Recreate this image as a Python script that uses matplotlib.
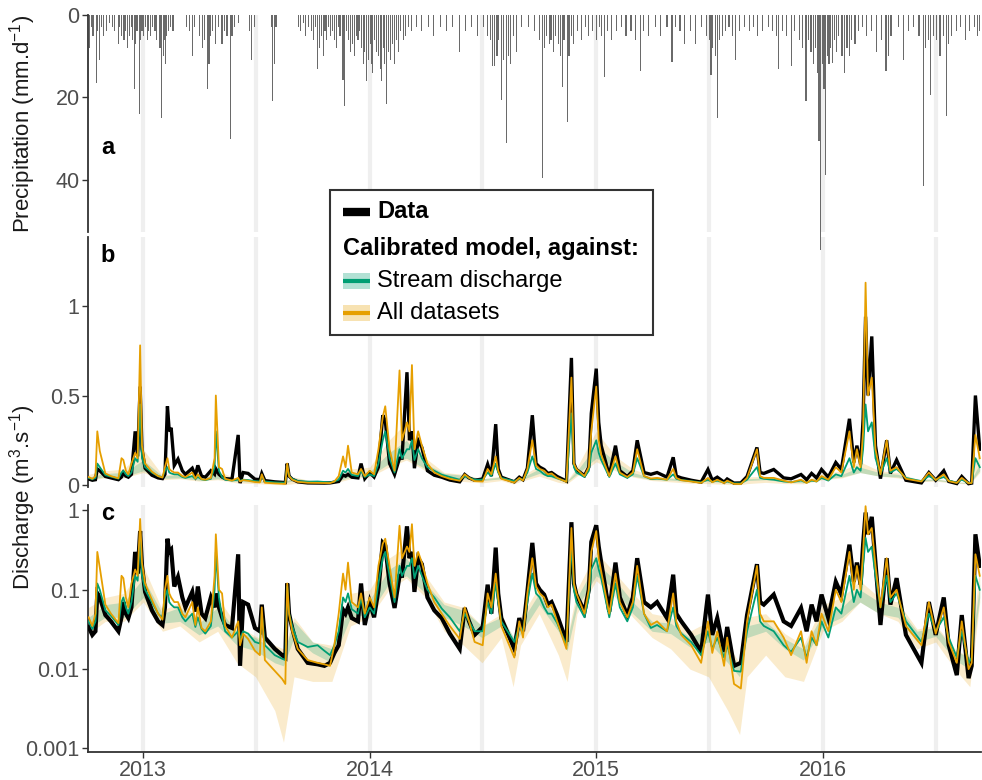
import numpy as np
import pandas as pd
import matplotlib
matplotlib.use('Agg')
import matplotlib.pyplot as plt
from matplotlib.patches import Rectangle
from matplotlib.lines import Line2D

plt.rcParams['font.family'] = ['Liberation Sans', 'DejaVu Sans']
plt.rcParams['mathtext.default'] = 'regular'

# daily precipitation (mm/d), rainy days only
rain_dates = [
    '2012-10-06', '2012-10-09', '2012-10-12', '2012-10-17', '2012-10-19', '2012-10-22', '2012-10-26', '2012-10-29', '2012-11-03', '2012-11-07',
    '2012-11-12', '2012-11-16', '2012-11-22', '2012-11-24', '2012-11-27', '2012-12-01', '2012-12-04', '2012-12-07', '2012-12-10', '2012-12-13',
    '2012-12-15', '2012-12-18', '2012-12-20', '2012-12-22', '2012-12-26', '2012-12-28', '2012-12-30', '2013-01-02', '2013-01-05', '2013-01-08',
    '2013-01-10', '2013-01-13', '2013-01-16', '2013-01-20', '2013-01-23', '2013-01-28', '2013-01-31', '2013-02-02', '2013-02-04', '2013-02-06',
    '2013-02-08', '2013-02-11', '2013-02-14', '2013-02-18', '2013-03-12', '2013-03-16', '2013-03-21', '2013-03-25', '2013-04-02', '2013-04-06',
    '2013-04-10', '2013-04-15', '2013-04-17', '2013-04-20', '2013-04-23', '2013-04-27', '2013-05-02', '2013-05-08', '2013-05-12', '2013-05-16',
    '2013-05-21', '2013-05-24', '2013-05-28', '2013-06-03', '2013-06-21', '2013-06-25', '2013-06-29', '2013-07-27', '2013-07-29', '2013-07-31',
    '2013-08-03', '2013-09-08', '2013-09-12', '2013-09-16', '2013-09-20', '2013-09-25', '2013-09-29', '2013-10-03', '2013-10-06', '2013-10-09',
    '2013-10-12', '2013-10-15', '2013-10-18', '2013-10-21', '2013-10-24', '2013-10-27', '2013-10-30', '2013-11-02', '2013-11-05', '2013-11-08',
    '2013-11-11', '2013-11-14', '2013-11-19', '2013-11-22', '2013-11-25', '2013-11-28', '2013-12-01', '2013-12-04', '2013-12-07', '2013-12-10',
    '2013-12-13', '2013-12-16', '2013-12-19', '2013-12-22', '2013-12-24', '2013-12-27', '2013-12-30', '2014-01-02', '2014-01-04', '2014-01-06',
    '2014-01-09', '2014-01-12', '2014-01-15', '2014-01-18', '2014-01-20', '2014-01-23', '2014-01-25', '2014-01-28', '2014-01-31', '2014-02-03',
    '2014-02-06', '2014-02-10', '2014-02-13', '2014-02-16', '2014-02-20', '2014-02-24', '2014-02-28', '2014-03-04', '2014-03-10', '2014-03-18',
    '2014-03-26', '2014-04-05', '2014-04-14', '2014-04-25', '2014-05-05', '2014-05-15', '2014-05-26', '2014-06-04', '2014-06-14', '2014-06-24',
    '2014-07-04', '2014-07-10', '2014-07-14', '2014-07-18', '2014-07-21', '2014-07-25', '2014-07-28', '2014-08-01', '2014-08-04', '2014-08-09',
    '2014-08-12', '2014-08-16', '2014-08-20', '2014-08-26', '2014-09-02', '2014-09-14', '2014-09-24', '2014-10-02', '2014-10-06', '2014-10-09',
    '2014-10-13', '2014-10-17', '2014-10-20', '2014-10-24', '2014-10-28', '2014-11-01', '2014-11-04', '2014-11-07', '2014-11-10', '2014-11-15',
    '2014-11-18', '2014-11-22', '2014-11-26', '2014-12-02', '2014-12-08', '2014-12-14', '2014-12-20', '2014-12-26', '2015-01-02', '2015-01-06',
    '2015-01-10', '2015-01-15', '2015-01-19', '2015-01-25', '2015-02-02', '2015-02-10', '2015-02-18', '2015-02-26', '2015-03-05', '2015-03-13',
    '2015-03-18', '2015-03-26', '2015-04-06', '2015-04-15', '2015-04-25', '2015-05-03', '2015-05-08', '2015-05-16', '2015-05-23', '2015-06-02',
    '2015-06-10', '2015-06-20', '2015-06-28', '2015-07-02', '2015-07-05', '2015-07-08', '2015-07-12', '2015-07-16', '2015-07-19', '2015-07-23',
    '2015-07-28', '2015-08-03', '2015-08-08', '2015-08-14', '2015-08-20', '2015-08-28', '2015-09-05', '2015-09-12', '2015-09-18', '2015-09-26',
    '2015-10-05', '2015-10-12', '2015-10-18', '2015-10-22', '2015-10-28', '2015-11-04', '2015-11-11', '2015-11-17', '2015-11-24', '2015-11-30',
    '2015-12-05', '2015-12-09', '2015-12-13', '2015-12-17', '2015-12-20', '2015-12-23', '2015-12-26', '2015-12-29', '2016-01-01', '2016-01-03',
    '2016-01-06', '2016-01-08', '2016-01-11', '2016-01-14', '2016-01-17', '2016-01-20', '2016-01-23', '2016-01-27', '2016-02-01', '2016-02-05',
    '2016-02-09', '2016-02-13', '2016-02-17', '2016-02-22', '2016-02-27', '2016-03-05', '2016-03-12', '2016-03-20', '2016-03-28', '2016-04-05',
    '2016-04-12', '2016-04-16', '2016-04-20', '2016-05-02', '2016-05-10', '2016-05-18', '2016-05-26', '2016-06-04', '2016-06-11', '2016-06-15',
    '2016-06-19', '2016-06-23', '2016-06-27', '2016-07-02', '2016-07-08', '2016-07-13', '2016-07-18', '2016-07-22', '2016-07-27', '2016-08-04',
    '2016-08-10', '2016-08-18', '2016-08-24', '2016-09-01', '2016-09-06', '2016-09-09',
]
rain_mm = [
    8, 3, 5, 16.5, 4, 11, 3, 5, 4, 2,
    3, 4, 7, 3, 5, 6, 4, 8, 5, 3,
    6, 18, 7, 4, 24, 6, 4, 5, 3, 6,
    4, 5, 3, 4, 6, 8, 25, 10, 6, 12,
    5, 4, 3, 4, 3, 4, 10, 3, 5, 8,
    6, 18, 12, 5, 4, 7, 3, 7, 4, 5,
    30, 5, 3, 2, 4, 11, 3, 3, 21, 12,
    3, 3, 4, 2, 5, 3, 4, 6, 3, 13,
    8, 5, 10, 4, 6, 3, 5, 4, 6, 8,
    3, 5, 15.7, 22, 4, 6, 9, 7, 10, 5,
    6, 4, 8, 12, 9, 16, 11, 7, 12, 14,
    6, 9, 10, 13, 16, 8, 12, 21.5, 9, 11,
    7, 12, 6, 9, 4, 6, 5, 3, 4, 3,
    4, 3, 5, 3, 4, 3, 9, 4, 3, 5,
    3, 5, 6, 12.5, 12.5, 10, 6, 20.6, 11, 31,
    10, 12, 5, 9, 3, 3, 4, 6, 39.6, 8,
    5, 7, 6, 9, 5, 7, 10, 17.4, 6, 26,
    10, 5, 7, 4, 6, 3, 5, 4, 6, 3,
    5, 15, 4, 6, 4, 3, 5, 4, 6, 13.7,
    4, 5, 3, 5, 3, 11.3, 3, 4, 7, 4,
    7, 3, 5, 6, 14.5, 8, 10, 25, 6, 5,
    4, 3, 5, 11, 4, 3, 4, 3, 5, 4,
    3, 4, 5, 13, 4, 5, 12.5, 4, 6, 8,
    21, 6, 9, 12, 8, 14, 30.7, 57, 12, 18,
    38.8, 10, 12, 8, 11.7, 6, 9, 5, 10, 14,
    8, 10, 6, 7, 4, 3, 5, 4, 9, 6,
    13.7, 10, 5, 3, 11, 4, 3, 5, 41.6, 8,
    6, 19.4, 5, 6, 10, 5, 24.6, 7, 5, 4,
    3, 6, 4, 3, 5, 4,
]

# discharge (m3/s): observed, model calibrated on stream discharge, model calibrated on all data
q_dates = [
    '2012-10-05', '2012-10-11', '2012-10-16', '2012-10-19', '2012-10-23', '2012-11-01', '2012-11-10', '2012-11-22', '2012-11-27', '2012-11-30',
    '2012-12-04', '2012-12-08', '2012-12-13', '2012-12-19', '2012-12-23', '2012-12-27', '2012-12-30', '2013-01-04',
    '2013-01-15', '2013-01-25', '2013-02-01', '2013-02-05', '2013-02-09', '2013-02-12', '2013-02-15', '2013-02-20', '2013-02-26', '2013-03-05',
    '2013-03-10', '2013-03-21', '2013-03-26', '2013-03-30', '2013-04-05', '2013-04-11', '2013-04-20', '2013-04-26', '2013-04-28', '2013-05-03',
    '2013-05-08', '2013-05-13', '2013-05-24',
    '2013-06-03', '2013-06-06', '2013-06-11', '2013-06-19', '2013-06-30', '2013-07-08', '2013-07-11', '2013-07-16', '2013-08-01', '2013-08-13',
    '2013-08-18', '2013-08-21', '2013-08-24', '2013-08-29', '2013-09-07', '2013-09-23', '2013-10-09', '2013-10-20', '2013-10-29',
    '2013-11-05', '2013-11-12', '2013-11-19', '2013-11-23', '2013-11-27', '2013-12-03', '2013-12-13', '2013-12-18', '2013-12-24', '2014-01-01',
    '2014-01-08', '2014-01-15', '2014-01-22', '2014-01-26', '2014-02-02', '2014-02-10', '2014-02-18', '2014-02-22', '2014-03-02', '2014-03-06',
    '2014-03-10', '2014-03-14', '2014-03-20', '2014-03-26', '2014-04-04',
    '2014-04-15', '2014-04-27', '2014-05-10', '2014-05-26', '2014-06-03', '2014-06-10', '2014-06-19', '2014-07-02', '2014-07-10', '2014-07-16',
    '2014-07-23', '2014-07-27', '2014-08-01', '2014-08-22', '2014-08-30', '2014-09-05', '2014-09-12', '2014-09-20', '2014-09-26', '2014-10-02',
    '2014-10-09', '2014-10-15', '2014-10-21', '2014-10-30',
    '2014-11-14', '2014-11-22', '2014-11-26', '2014-11-30', '2014-12-13', '2014-12-20', '2014-12-24', '2015-01-01', '2015-01-05', '2015-01-09',
    '2015-01-22', '2015-02-01', '2015-02-08', '2015-02-20', '2015-03-01', '2015-03-08', '2015-03-19', '2015-03-30', '2015-04-09', '2015-04-25',
    '2015-05-05', '2015-05-10', '2015-05-18',
    '2015-06-03', '2015-06-19', '2015-06-30', '2015-07-07', '2015-07-15', '2015-07-26', '2015-07-31', '2015-08-11', '2015-08-22', '2015-09-01',
    '2015-09-17', '2015-09-22', '2015-09-28', '2015-10-14', '2015-10-30', '2015-11-11', '2015-11-27', '2015-12-06', '2015-12-14', '2015-12-22',
    '2015-12-30',
    '2016-01-10', '2016-01-22', '2016-01-31', '2016-02-13', '2016-02-20', '2016-02-25', '2016-03-02', '2016-03-06', '2016-03-10', '2016-03-14',
    '2016-03-20', '2016-03-26', '2016-04-03', '2016-04-13', '2016-04-19', '2016-04-29', '2016-05-14', '2016-06-08', '2016-06-20', '2016-07-01',
    '2016-07-14', '2016-07-22', '2016-08-04', '2016-08-12', '2016-08-23', '2016-08-28', '2016-09-03', '2016-09-10',
]
q_obs = [
    0.034, 0.027, 0.030, 0.090, 0.080, 0.048, 0.040, 0.030, 0.045, 0.070,
    0.050, 0.044, 0.060, 0.300, 0.160, 0.550, 0.200, 0.094,
    0.055, 0.040, 0.036, 0.060, 0.440, 0.300, 0.320, 0.110, 0.145, 0.080,
    0.060, 0.094, 0.053, 0.110, 0.050, 0.044, 0.080, 0.060, 0.090, 0.060,
    0.045, 0.036, 0.033,
    0.280, 0.011, 0.070, 0.065, 0.033, 0.030, 0.065, 0.025, 0.018, 0.015,
    0.014, 0.120, 0.050, 0.033, 0.018, 0.012, 0.0115, 0.011, 0.012,
    0.016, 0.020, 0.056, 0.050, 0.060, 0.044, 0.040, 0.120, 0.036, 0.070,
    0.045, 0.100, 0.390, 0.360, 0.120, 0.059, 0.150, 0.150, 0.630, 0.250,
    0.300, 0.094, 0.250, 0.210, 0.080,
    0.055, 0.044, 0.028, 0.018, 0.059, 0.040, 0.027, 0.034, 0.116, 0.050,
    0.340, 0.090, 0.044, 0.018, 0.044, 0.030, 0.094, 0.390, 0.120, 0.100,
    0.087, 0.065, 0.070, 0.048,
    0.022, 0.710, 0.120, 0.087, 0.053, 0.100, 0.400, 0.650, 0.350, 0.220,
    0.053, 0.220, 0.080, 0.048, 0.080, 0.250, 0.070, 0.060, 0.070, 0.044,
    0.155, 0.050, 0.040,
    0.027, 0.0165, 0.087, 0.027, 0.044, 0.0165, 0.034, 0.011, 0.012, 0.048,
    0.210, 0.070, 0.065, 0.087, 0.040, 0.035, 0.059, 0.030, 0.065, 0.040,
    0.087,
    0.044, 0.126, 0.087, 0.370, 0.126, 0.220, 0.116, 0.370, 0.940, 0.500,
    0.830, 0.220, 0.036, 0.250, 0.065, 0.140, 0.027, 0.012, 0.070, 0.027,
    0.080, 0.020, 0.0084, 0.048, 0.0077, 0.011, 0.500, 0.200,
]
q_stream = [
    0.040, 0.032, 0.040, 0.120, 0.100, 0.055, 0.047, 0.036, 0.070, 0.080,
    0.060, 0.050, 0.070, 0.150, 0.130, 0.450, 0.150, 0.100,
    0.070, 0.050, 0.044, 0.080, 0.100, 0.070, 0.065, 0.060, 0.060, 0.045,
    0.040, 0.050, 0.034, 0.045, 0.032, 0.028, 0.035, 0.100, 0.300, 0.080,
    0.045, 0.030, 0.025,
    0.030, 0.024, 0.030, 0.028, 0.022, 0.021, 0.050, 0.020, 0.015, 0.0135,
    0.013, 0.110, 0.050, 0.035, 0.022, 0.019, 0.020, 0.017, 0.015,
    0.020, 0.030, 0.080, 0.070, 0.090, 0.057, 0.050, 0.080, 0.045, 0.060,
    0.050, 0.120, 0.250, 0.300, 0.150, 0.070, 0.200, 0.150, 0.200, 0.200,
    0.250, 0.140, 0.200, 0.150, 0.100,
    0.080, 0.058, 0.045, 0.030, 0.050, 0.040, 0.030, 0.030, 0.070, 0.050,
    0.120, 0.070, 0.040, 0.022, 0.035, 0.030, 0.070, 0.160, 0.090, 0.080,
    0.060, 0.050, 0.050, 0.038,
    0.020, 0.400, 0.100, 0.070, 0.045, 0.080, 0.180, 0.250, 0.180, 0.140,
    0.045, 0.120, 0.060, 0.040, 0.060, 0.150, 0.050, 0.033, 0.036, 0.030,
    0.060, 0.035, 0.028,
    0.022, 0.015, 0.030, 0.018, 0.025, 0.014, 0.020, 0.0095, 0.0093, 0.030,
    0.100, 0.040, 0.035, 0.030, 0.020, 0.0165, 0.025, 0.0137, 0.025, 0.020,
    0.040,
    0.025, 0.060, 0.050, 0.150, 0.070, 0.100, 0.080, 0.200, 0.450, 0.300,
    0.350, 0.150, 0.060, 0.150, 0.070, 0.090, 0.040, 0.022, 0.050, 0.030,
    0.045, 0.025, 0.014, 0.030, 0.012, 0.014, 0.150, 0.100,
]
q_all = [
    0.045, 0.035, 0.050, 0.300, 0.190, 0.065, 0.050, 0.038, 0.150, 0.140,
    0.080, 0.060, 0.120, 0.180, 0.150, 0.780, 0.220, 0.120,
    0.075, 0.050, 0.042, 0.100, 0.150, 0.090, 0.080, 0.070, 0.070, 0.050,
    0.045, 0.070, 0.036, 0.060, 0.033, 0.030, 0.040, 0.150, 0.500, 0.100,
    0.090, 0.035, 0.025,
    0.040, 0.020, 0.028, 0.024, 0.017, 0.015, 0.060, 0.013, 0.0095, 0.0075,
    0.0065, 0.120, 0.050, 0.030, 0.018, 0.013, 0.012, 0.0115, 0.011,
    0.020, 0.050, 0.160, 0.100, 0.220, 0.070, 0.060, 0.090, 0.050, 0.080,
    0.060, 0.200, 0.380, 0.440, 0.200, 0.080, 0.640, 0.250, 0.350, 0.300,
    0.670, 0.200, 0.300, 0.220, 0.120,
    0.070, 0.050, 0.035, 0.024, 0.060, 0.040, 0.022, 0.020, 0.090, 0.060,
    0.160, 0.080, 0.035, 0.014, 0.040, 0.025, 0.090, 0.250, 0.110, 0.090,
    0.080, 0.060, 0.065, 0.040,
    0.018, 0.600, 0.120, 0.090, 0.050, 0.100, 0.300, 0.550, 0.250, 0.170,
    0.050, 0.160, 0.070, 0.045, 0.070, 0.200, 0.050, 0.036, 0.040, 0.030,
    0.090, 0.040, 0.027,
    0.020, 0.012, 0.040, 0.016, 0.030, 0.011, 0.025, 0.0065, 0.0057, 0.040,
    0.200, 0.050, 0.040, 0.040, 0.025, 0.015, 0.030, 0.012, 0.030, 0.020,
    0.050,
    0.030, 0.100, 0.070, 0.300, 0.100, 0.200, 0.100, 0.300, 1.130, 0.500,
    0.600, 0.200, 0.060, 0.250, 0.080, 0.100, 0.035, 0.020, 0.070, 0.028,
    0.060, 0.022, 0.012, 0.040, 0.010, 0.012, 0.280, 0.150,
]

# uncertainty ribbons of the two calibrations
band_dates = [
    '2012-10-05', '2012-11-01', '2012-12-01', '2013-01-01', '2013-02-01', '2013-03-01', '2013-04-01', '2013-05-01', '2013-06-01', '2013-07-01',
    '2013-08-01', '2013-08-15', '2013-09-01', '2013-10-01', '2013-11-01', '2013-12-01', '2014-01-01', '2014-02-01', '2014-03-01', '2014-04-01',
    '2014-05-01', '2014-06-01', '2014-07-01', '2014-08-01', '2014-08-20', '2014-09-01', '2014-10-01', '2014-11-01', '2014-11-15', '2014-12-01',
    '2015-01-01', '2015-02-01', '2015-03-01', '2015-04-01', '2015-05-01', '2015-06-01', '2015-07-01', '2015-08-01', '2015-08-20', '2015-09-01',
    '2015-10-01', '2015-11-01', '2015-12-01', '2016-01-01', '2016-02-01', '2016-03-01', '2016-04-01', '2016-05-01', '2016-06-01', '2016-07-01',
    '2016-08-01', '2016-08-25', '2016-09-10',
]
stream_lo = [
    0.033, 0.045, 0.045, 0.080, 0.038, 0.040, 0.027, 0.035, 0.020, 0.017,
    0.012, 0.011, 0.025, 0.016, 0.012, 0.045, 0.050, 0.120, 0.150, 0.090,
    0.045, 0.035, 0.025, 0.035, 0.019, 0.028, 0.065, 0.030, 0.017, 0.060,
    0.150, 0.100, 0.050, 0.030, 0.028, 0.019, 0.022, 0.012, 0.008, 0.025,
    0.030, 0.018, 0.013, 0.035, 0.045, 0.070, 0.050, 0.045, 0.022, 0.026,
    0.013, 0.010, 0.080,
]
stream_hi = [
    0.045, 0.065, 0.070, 0.140, 0.050, 0.060, 0.038, 0.060, 0.030, 0.025,
    0.017, 0.016, 0.040, 0.022, 0.018, 0.065, 0.075, 0.180, 0.250, 0.120,
    0.065, 0.055, 0.035, 0.045, 0.026, 0.038, 0.090, 0.042, 0.023, 0.080,
    0.220, 0.130, 0.070, 0.040, 0.038, 0.025, 0.032, 0.017, 0.011, 0.035,
    0.040, 0.024, 0.018, 0.050, 0.060, 0.100, 0.070, 0.060, 0.030, 0.034,
    0.017, 0.014, 0.120,
]
all_lo = [
    0.028, 0.040, 0.040, 0.070, 0.030, 0.035, 0.022, 0.030, 0.012, 0.008,
    0.003, 0.0012, 0.008, 0.007, 0.007, 0.035, 0.045, 0.100, 0.140, 0.080,
    0.030, 0.020, 0.012, 0.025, 0.006, 0.020, 0.050, 0.015, 0.007, 0.050,
    0.130, 0.080, 0.045, 0.025, 0.018, 0.010, 0.008, 0.003, 0.0015, 0.008,
    0.015, 0.008, 0.007, 0.030, 0.040, 0.070, 0.050, 0.040, 0.018, 0.022,
    0.010, 0.006, 0.070,
]
all_hi = [
    0.060, 0.080, 0.090, 0.200, 0.055, 0.070, 0.045, 0.080, 0.035, 0.026,
    0.020, 0.018, 0.045, 0.022, 0.020, 0.090, 0.100, 0.250, 0.350, 0.150,
    0.070, 0.060, 0.035, 0.050, 0.025, 0.045, 0.110, 0.045, 0.025, 0.100,
    0.300, 0.160, 0.090, 0.050, 0.045, 0.030, 0.040, 0.020, 0.012, 0.045,
    0.050, 0.028, 0.020, 0.065, 0.080, 0.130, 0.080, 0.070, 0.032, 0.036,
    0.018, 0.014, 0.200,
]

rain = pd.DataFrame({'date': pd.to_datetime(rain_dates), 'mm': rain_mm})
q = pd.DataFrame({'date': pd.to_datetime(q_dates), 'obs': q_obs,
                  'stream': q_stream, 'all': q_all})
band = pd.DataFrame({'date': pd.to_datetime(band_dates),
                     'slo': stream_lo, 'shi': stream_hi,
                     'alo': all_lo, 'ahi': all_hi})

GREEN = '#009E73'
ORANGE = '#E69F00'
TICK_GREY = '#4d4d4d'
SPINE = '#333333'

W, H = 982, 780
fig = plt.figure(figsize=(W / 100, H / 100), dpi=100)


def fx(px):
    return px / W


def fy(py):
    return 1 - py / H


def panel(top, bottom):
    return fig.add_axes([fx(88), fy(bottom), fx(981) - fx(88), fy(top) - fy(bottom)])


ax_a = panel(15, 232)
ax_b = panel(237, 486.5)
ax_c = panel(505, 752)
ax_a.set_zorder(2)

xlim = (pd.Timestamp('2012-10-04'), pd.Timestamp('2016-09-12'))
guides = pd.to_datetime(['2013-01-01', '2013-07-01', '2014-01-01', '2014-07-01',
                         '2015-01-01', '2015-07-01', '2016-01-01', '2016-07-01'])

for ax in (ax_a, ax_b, ax_c):
    ax.set_facecolor('none')
    for g in guides:
        ax.axvline(g, color='#efefef', lw=3, zorder=0)
    ax.set_xlim(*xlim)
    for s in ('top', 'right', 'bottom'):
        ax.spines[s].set_visible(False)
    ax.spines['left'].set_color(SPINE)
    ax.spines['left'].set_linewidth(1.3)
    ax.tick_params(axis='y', colors=SPINE, labelcolor=TICK_GREY, labelsize=15.5,
                   length=4, width=1, pad=2)
    ax.tick_params(axis='x', bottom=False, labelbottom=False)
    ax.minorticks_off()

# a: precipitation, hanging bars
ax_a.bar(rain['date'], rain['mm'], width=1.8, color='#6a6a6a', lw=0, clip_on=False, zorder=2)
ax_a.set_ylim(52.7, 0)
ax_a.set_yticks([0, 20, 40])
ax_a.set_yticklabels(['0', '20', '40'])

# b and c: discharge, linear and log
for ax, lw_obs in ((ax_b, 2.4), (ax_c, 3.0)):
    ax.fill_between(band['date'], band['alo'], band['ahi'], color=ORANGE, alpha=0.2, lw=0, zorder=1)
    ax.fill_between(band['date'], band['slo'], band['shi'], color=GREEN, alpha=0.22, lw=0, zorder=1)
    ax.plot(q['date'], q['obs'], color='black', lw=lw_obs, zorder=3, solid_joinstyle='miter')
    ax.plot(q['date'], q['stream'], color=GREEN, lw=1.3, zorder=4)
    ax.plot(q['date'], q['all'], color=ORANGE, lw=1.3, zorder=5)

ax_b.set_ylim(-0.008, 1.385)
ax_b.set_yticks([0, 0.5, 1])
ax_b.set_yticklabels(['0', '0.5', '1'])

ax_c.set_yscale('log')
ax_c.set_ylim(0.000903, 1.17)
ax_c.set_yticks([0.001, 0.01, 0.1, 1])
ax_c.set_yticklabels(['0.001', '0.01', '0.1', '1'])
ax_c.minorticks_off()
ax_c.spines['bottom'].set_visible(True)
ax_c.spines['bottom'].set_color(SPINE)
ax_c.spines['bottom'].set_linewidth(1.3)
years = pd.to_datetime(['2013-01-01', '2014-01-01', '2015-01-01', '2016-01-01'])
ax_c.set_xticks(years)
ax_c.set_xticklabels(['2013', '2014', '2015', '2016'])
ax_c.tick_params(axis='x', bottom=True, labelbottom=True, colors=SPINE, labelcolor=TICK_GREY,
                 labelsize=15.5, length=4, width=1, pad=2)

# panel letters and axis titles
for lab, py in (('a', 148), ('b', 256), ('c', 514)):
    fig.text(fx(108), fy(py), lab, fontsize=17, fontweight='bold', ha='center', va='center')
fig.text(fx(23), fy(124), 'Precipitation (mm.d$^{-1}$)', rotation=90, fontsize=16,
         color='#1a1a1a', ha='center', va='center')
fig.text(fx(23), fy(497), 'Discharge (m$^{3}$.s$^{-1}$)', rotation=90, fontsize=16,
         color='#1a1a1a', ha='center', va='center')

# legend box drawn by hand
fig.add_artist(Rectangle((fx(330), fy(335)), fx(653) - fx(330), fy(190) - fy(335),
                         transform=fig.transFigure, facecolor='white', edgecolor=SPINE,
                         lw=1.5, zorder=5))
fig.add_artist(Line2D([fx(343), fx(370)], [fy(212), fy(212)], transform=fig.transFigure,
                      color='black', lw=6, solid_capstyle='butt', zorder=6))
fig.text(fx(377), fy(212), 'Data', fontsize=17, fontweight='bold', va='center', zorder=6)
fig.text(fx(343), fy(248), 'Calibrated model, against:', fontsize=17, fontweight='bold',
         va='center', zorder=6)
for py, col, lab in ((281, GREEN, 'Stream discharge'), (313, ORANGE, 'All datasets')):
    fig.add_artist(Rectangle((fx(343), fy(py + 8)), fx(370) - fx(343), fy(py - 8) - fy(py + 8),
                             transform=fig.transFigure, facecolor=col, alpha=0.3, lw=0, zorder=6))
    fig.add_artist(Line2D([fx(343), fx(370)], [fy(py), fy(py)], transform=fig.transFigure,
                          color=col, lw=3, solid_capstyle='butt', zorder=7))
    fig.text(fx(377), fy(py), lab, fontsize=17, va='center', zorder=7)

fig.savefig('out.png', dpi=100)
